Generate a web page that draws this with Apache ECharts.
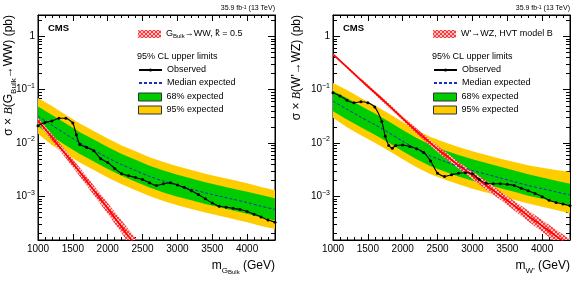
<!DOCTYPE html>
<html>
<head>
<meta charset="utf-8">
<script src="https://cdn.jsdelivr.net/npm/echarts@6.0.0/dist/echarts.min.js"></script>
<style>
  html, body { margin: 0; background: #fff; }
  #chart { width: 573px; height: 281px; }
</style>
</head>
<body>
<div id="chart"></div>
<script>
// ---- data (sigma x B in pb, masses in GeV) ----
const bandMass = [1000, 1200, 1400, 1600, 1800, 2000, 2200, 2400, 2600, 2800, 3000, 3200, 3400, 3600, 3800, 4000, 4200, 4400];

// left: G_Bulk -> WW
const expL = [0.0316, 0.0214, 0.0145, 0.0100, 0.00724, 0.00525, 0.00389, 0.00302, 0.00234, 0.00191, 0.00158, 0.00135, 0.00115, 0.00100, 0.000871, 0.000759, 0.000646, 0.000562];
const p1L = [0.0479, 0.0331, 0.0229, 0.0158, 0.0115, 0.00832, 0.00617, 0.00479, 0.00372, 0.00302, 0.00251, 0.00214, 0.00182, 0.00158, 0.00138, 0.00120, 0.00105, 0.000912];
const m1L = [0.0204, 0.0132, 0.00891, 0.00617, 0.00447, 0.00324, 0.00240, 0.00186, 0.00145, 0.00117, 0.000977, 0.000832, 0.000708, 0.000617, 0.000537, 0.000468, 0.000398, 0.000347];
const p2L = [0.0692, 0.0490, 0.0331, 0.0229, 0.0166, 0.0120, 0.00891, 0.00692, 0.00537, 0.00437, 0.00363, 0.00309, 0.00263, 0.00229, 0.00200, 0.00174, 0.00148, 0.00129];
const m2L = [0.0148, 0.00912, 0.00617, 0.00427, 0.00309, 0.00224, 0.00166, 0.00129, 0.00100, 0.000813, 0.000676, 0.000575, 0.000490, 0.000427, 0.000372, 0.000324, 0.000275, 0.000240];
const obsMassL = [1000, 1100, 1200, 1300, 1400, 1500, 1550, 1600, 1700, 1800, 1900, 2000, 2100, 2200, 2300, 2400, 2500, 2600, 2700, 2800, 2900, 3000, 3100, 3200, 3300, 3400, 3500, 3600, 3700, 3800, 3900, 4000, 4100, 4200, 4300, 4400];
const obsL = [0.0209, 0.0240, 0.0257, 0.0288, 0.0288, 0.0234, 0.0141, 0.00933, 0.00813, 0.00708, 0.00501, 0.00427, 0.00331, 0.00263, 0.00240, 0.00224, 0.00204, 0.00178, 0.00158, 0.00170, 0.00178, 0.00162, 0.00145, 0.00126, 0.00107, 0.000891, 0.000741, 0.000646, 0.000617, 0.000589, 0.000562, 0.000513, 0.000457, 0.000407, 0.000355, 0.000324];
const thMassL = [1000, 1200, 1400, 1600, 1800, 2000, 2200, 2400, 2600];
const thL = [0.0263, 0.0126, 0.00603, 0.00282, 0.00129, 0.000589, 0.000263, 0.000117, 0.0000525];
const thHiL = [0.0295, 0.0145, 0.00708, 0.00339, 0.00158, 0.000741, 0.000347, 0.000162, 0.0000759];
const thLoL = [0.0234, 0.0110, 0.00513, 0.00234, 0.00105, 0.000468, 0.000200, 0.0000851, 0.0000363];

// right: W' -> WZ
const expR = [0.0603, 0.0427, 0.0302, 0.0219, 0.0155, 0.0107, 0.00759, 0.00562, 0.00447, 0.00363, 0.00302, 0.00257, 0.00219, 0.00186, 0.00158, 0.00138, 0.00120, 0.00105];
const p1R = [0.0933, 0.0692, 0.0490, 0.0355, 0.0251, 0.0174, 0.0123, 0.00912, 0.00724, 0.00589, 0.00490, 0.00417, 0.00355, 0.00302, 0.00257, 0.00224, 0.00195, 0.00170];
const m1R = [0.0389, 0.0275, 0.0195, 0.0141, 0.0100, 0.00692, 0.00490, 0.00363, 0.00288, 0.00234, 0.00195, 0.00166, 0.00141, 0.00120, 0.00102, 0.000891, 0.000776, 0.000676];
const p2R = [0.132, 0.0977, 0.0692, 0.0501, 0.0355, 0.0245, 0.0174, 0.0129, 0.0102, 0.00832, 0.00692, 0.00589, 0.00501, 0.00437, 0.00380, 0.00339, 0.00309, 0.00282];
const m2R = [0.0295, 0.0195, 0.0138, 0.0100, 0.00708, 0.00490, 0.00347, 0.00257, 0.00204, 0.00166, 0.00138, 0.00117, 0.00100, 0.000851, 0.000724, 0.000631, 0.000550, 0.000479];
const obsMassR = [1000, 1100, 1200, 1300, 1400, 1500, 1600, 1700, 1750, 1800, 1850, 1900, 2000, 2100, 2200, 2300, 2400, 2500, 2600, 2700, 2800, 2900, 3000, 3100, 3200, 3300, 3400, 3500, 3600, 3700, 3800, 3900, 4000, 4100, 4200, 4300, 4400];
const obsR = [0.0871, 0.0759, 0.0631, 0.0562, 0.0589, 0.0562, 0.0468, 0.0251, 0.0132, 0.00891, 0.00794, 0.00891, 0.00912, 0.00851, 0.00776, 0.00661, 0.00457, 0.00269, 0.00234, 0.00251, 0.00269, 0.00275, 0.00263, 0.00204, 0.00174, 0.00170, 0.00170, 0.00166, 0.00158, 0.00141, 0.00126, 0.00112, 0.000977, 0.000832, 0.000759, 0.000708, 0.000661];
const thMassR = bandMass;
const thR = [0.457, 0.263, 0.151, 0.0871, 0.0501, 0.0288, 0.0166, 0.00977, 0.00603, 0.00380, 0.00245, 0.00158, 0.00102, 0.000661, 0.000427, 0.000275, 0.000178, 0.000115];
const thHiR = [0.479, 0.275, 0.162, 0.0933, 0.0550, 0.0316, 0.0186, 0.0110, 0.00692, 0.00437, 0.00288, 0.00191, 0.00123, 0.000813, 0.000537, 0.000355, 0.000234, 0.000155];
const thLoR = [0.437, 0.251, 0.141, 0.0813, 0.0457, 0.0263, 0.0148, 0.00871, 0.00525, 0.00331, 0.00209, 0.00132, 0.000851, 0.000537, 0.000339, 0.000214, 0.000135, 0.0000851];

const xRange = [1000, 4400];
const yRange = [1.5e-4, 2.5];
const lumiLabel = '35.9 fb{s|-1} (13 TeV)';

// ---- style ----
const FONT = '"Liberation Sans", Arial, sans-serif';
const GREEN = '#00cc00';
const YELLOW = '#ffcc00';
const RED = '#ff0000';
const panels = [{left: 38}, {left: 333}];
const W = 237, TOP = 15, H = 225;

// red cross-hatch used for the theory band
const hatch = document.createElement('canvas');
hatch.width = 4; hatch.height = 4;
(() => {
  const g = hatch.getContext('2d');
  g.fillStyle = '#ffc0c0';
  g.fillRect(0, 0, 4, 4);
  g.strokeStyle = '#ff2a2a';
  g.lineWidth = 0.9;
  g.beginPath();
  g.moveTo(0, 4); g.lineTo(4, 0);
  g.moveTo(0, 0); g.lineTo(4, 4);
  g.stroke();
})();
const hatchFill = {image: hatch, repeat: 'repeat'};

const pairs = (xs, ys) => xs.map((x, i) => [x, ys[i]]);

const subRich = {
  t: {fontSize: 12, lineHeight: 18, fontFamily: FONT, fill: '#000', color: '#000'},
  i: {fontSize: 12, lineHeight: 18, fontFamily: '"Liberation Serif", serif', fontStyle: 'italic', fill: '#000', color: '#000'},
  sub: {fontSize: 8, lineHeight: 10, verticalAlign: 'bottom', fontFamily: FONT, fill: '#000', color: '#000'},
  ss: {fontSize: 6, lineHeight: 5, verticalAlign: 'bottom', fontFamily: FONT, fill: '#000', color: '#000'}
};

function xAxis(p, main) {
  return {
    type: 'value', gridIndex: p, min: xRange[0], max: xRange[1], interval: 500,
    position: main ? 'bottom' : 'top',
    axisLine: {show: true, onZero: false, lineStyle: {color: '#000', width: 1}},
    axisTick: {show: true, inside: true, length: 6, lineStyle: {color: '#000'}},
    minorTick: {show: true, splitNumber: 5, length: 3, lineStyle: {color: '#000'}},
    axisLabel: {show: main, showMaxLabel: false, margin: 4, color: '#000', fontFamily: FONT, fontSize: 10, formatter: v => String(v)},
    splitLine: {show: false}
  };
}

function yAxis(p, main) {
  return {
    type: 'log', logBase: 10, gridIndex: p, min: yRange[0], max: yRange[1],
    position: main ? 'left' : 'right',
    axisLine: {show: true, onZero: false, lineStyle: {color: '#000', width: 1}},
    axisTick: {show: true, inside: true, length: 7, lineStyle: {color: '#000'}},
    minorTick: {show: false},
    axisLabel: {
      show: main, showMinLabel: false, showMaxLabel: false, margin: 3,
      formatter: v => {
        const l = Math.log10(v), e = Math.round(l);
        if (Math.abs(l - e) > 0.01) return '';
        return e === 0 ? '{b|1}' : '{b|10}{s|\u2212' + (-e) + '}';
      },
      rich: {
        b: {fontSize: 10, lineHeight: 14, fontFamily: FONT, color: '#000'},
        s: {fontSize: 7, lineHeight: 8, verticalAlign: 'top', fontFamily: FONT, color: '#000'}
      }
    },
    splitLine: {show: false}
  };
}

// filled band between lo and hi, polygon built from the axis scale
function band(p, name, xs, hi, lo, fill) {
  return {
    type: 'custom', name, xAxisIndex: p * 2, yAxisIndex: p * 2, silent: true, clip: true,
    data: [[xs[0], hi[0]]],
    renderItem: (params, api) => {
      const up = xs.map((x, i) => api.coord([x, hi[i]]));
      const dn = xs.map((x, i) => api.coord([x, lo[i]])).reverse();
      return {type: 'polygon', shape: {points: up.concat(dn)}, style: {fill, stroke: null}};
    }
  };
}

function panelSeries(p, d) {
  const ax = {xAxisIndex: p * 2, yAxisIndex: p * 2};
  const base = {type: 'line', symbol: 'none', silent: true, ...ax};
  return [
    band(p, '95% expected', bandMass, d.p2, d.m2, YELLOW),
    band(p, '68% expected', bandMass, d.p1, d.m1, GREEN),
    band(p, d.thName, d.thMass, d.thHi, d.thLo, hatchFill),
    {...base, data: pairs(d.thMass, d.th), lineStyle: {color: RED, width: 1.6}, smooth: 0.3},
    {...base, name: 'Median expected', data: pairs(bandMass, d.exp), lineStyle: {color: '#1a2fbf', width: 1, type: [3, 2]}, smooth: 0.3},
    {...base, name: 'Observed', data: pairs(d.obsMass, d.obs), symbol: 'circle', symbolSize: 3, showSymbol: true,
      itemStyle: {color: '#000'}, lineStyle: {color: '#000', width: 1.1}, smooth: 0.2, z: 5}
  ];
}

function legends(p, thName, thLabel) {
  const dx = panels[p].left - panels[0].left;
  const text = {fontFamily: FONT, fontSize: 9, color: '#000', lineHeight: 10};
  return [
    {left: 138 + dx, top: 29, padding: 0, orient: 'vertical', selectedMode: false, itemWidth: 23, itemHeight: 8,
      data: [{name: thName, icon: 'rect', itemStyle: {color: hatchFill, borderWidth: 0}}],
      formatter: () => thLabel,
      textStyle: {...text, rich: {n: {fontSize: 9, fontFamily: FONT, color: '#000'}, sub: {fontSize: 6, verticalAlign: 'bottom', lineHeight: 6, fontFamily: FONT, color: '#000'}}}},
    {left: 138 + dx, top: 65, padding: 0, orient: 'vertical', selectedMode: false, itemWidth: 23, itemHeight: 4, itemGap: 3,
      data: [{name: 'Observed'}, {name: 'Median expected', itemStyle: {color: 'rgba(0,0,0,0)', borderWidth: 0}}],
      textStyle: text},
    {left: 138 + dx, top: 92, padding: 0, orient: 'vertical', selectedMode: false, itemWidth: 23, itemHeight: 8, itemGap: 3,
      data: [
        {name: '68% expected', icon: 'rect', itemStyle: {color: GREEN, borderColor: '#333', borderWidth: 1}},
        {name: '95% expected', icon: 'rect', itemStyle: {color: YELLOW, borderColor: '#333', borderWidth: 1}}
      ],
      textStyle: text}
  ];
}

function titles(p) {
  const left = panels[p].left;
  return [
    {text: 'CMS', left: left + 10, top: 23, padding: 0, textStyle: {fontFamily: FONT, fontSize: 9.5, fontWeight: 'bold', color: '#000'}},
    {text: lumiLabel, left: left + W, top: 5, padding: 0, textAlign: 'right',
      textStyle: {fontFamily: FONT, fontSize: 7, fontWeight: 'normal', color: '#000', rich: {s: {fontSize: 5, verticalAlign: 'top', lineHeight: 5}}}},
    {text: '95% CL upper limits', left: left + 99, top: 52, padding: 0, textStyle: {fontFamily: FONT, fontSize: 9, fontWeight: 'normal', color: '#000'}}
  ];
}

// axis titles as text elements
const yTitles = ['{t|\u03c3 \u00d7 }{i|B}{t|(G}{sub|Bulk}{t|\u2192WW) (pb)}', "{t|\u03c3 \u00d7 }{i|B}{t|(W'\u2192WZ) (pb)}"];
const xTitles = ['{t|m}{sub|G}{ss|Bulk}{t| (GeV)}', "{t|m}{sub|W'}{t| (GeV)}"];

const thNameL = 'G_Bulk→WW';
const thNameR = "W'→WZ";
const dataL = {exp: expL, p1: p1L, m1: m1L, p2: p2L, m2: m2L, obsMass: obsMassL, obs: obsL, thMass: thMassL, th: thL, thHi: thHiL, thLo: thLoL, thName: thNameL};
const dataR = {exp: expR, p1: p1R, m1: m1R, p2: p2R, m2: m2R, obsMass: obsMassR, obs: obsR, thMass: thMassR, th: thR, thHi: thHiR, thLo: thLoR, thName: thNameR};

const chart = echarts.init(document.getElementById('chart'), null, {renderer: 'canvas'});
chart.setOption({
  animation: false,
  backgroundColor: '#fff',
  title: [...titles(0), ...titles(1)],
  legend: [
    ...legends(0, thNameL, '{n|G}{sub|Bulk}{n|\u2192WW, k\u0303 = 0.5}'),
    ...legends(1, thNameR, "W'\u2192WZ, HVT model B")
  ],
  grid: panels.map(p => ({left: p.left, top: TOP, width: W, height: H, show: true, borderColor: '#000', borderWidth: 1,
    backgroundColor: 'transparent', containLabel: false, outerBoundsMode: 'none'})),
  xAxis: [xAxis(0, true), xAxis(0, false), xAxis(1, true), xAxis(1, false)],
  yAxis: [yAxis(0, true), yAxis(0, false), yAxis(1, true), yAxis(1, false)],
  series: [...panelSeries(0, dataL), ...panelSeries(1, dataR)]
});

// minor ticks of the log axes (2..9 x 10^n), placed through the axis scale, plus axis titles
const extra = [];
const yTitleX = [9, 297];
[0, 1].forEach(p => {
  const x0 = chart.convertToPixel({xAxisIndex: p * 2}, xRange[0]);
  const x1 = chart.convertToPixel({xAxisIndex: p * 2}, xRange[1]);
  for (let e = -4; e <= 0; e++) {
    for (let k = 2; k <= 9; k++) {
      const v = k * Math.pow(10, e);
      if (v <= yRange[0] || v >= yRange[1]) continue;
      const y = Math.round(chart.convertToPixel({yAxisIndex: p * 2}, v)) + 0.5;
      extra.push({type: 'line', silent: true, shape: {x1: x0, y1: y, x2: x0 + 4, y2: y}, style: {stroke: '#000', lineWidth: 1}});
      extra.push({type: 'line', silent: true, shape: {x1: x1 - 4, y1: y, x2: x1, y2: y}, style: {stroke: '#000', lineWidth: 1}});
    }
  }
  extra.push({type: 'text', silent: true, x: yTitleX[p], y: TOP, rotation: Math.PI / 2,
    style: {text: yTitles[p], align: 'right', verticalAlign: 'middle', rich: subRich}});
  extra.push({type: 'text', silent: true, x: x1, y: TOP + H + 17,
    style: {text: xTitles[p], align: 'right', verticalAlign: 'top', rich: subRich}});
});
chart.setOption({graphic: extra});
</script>
</body>
</html>
